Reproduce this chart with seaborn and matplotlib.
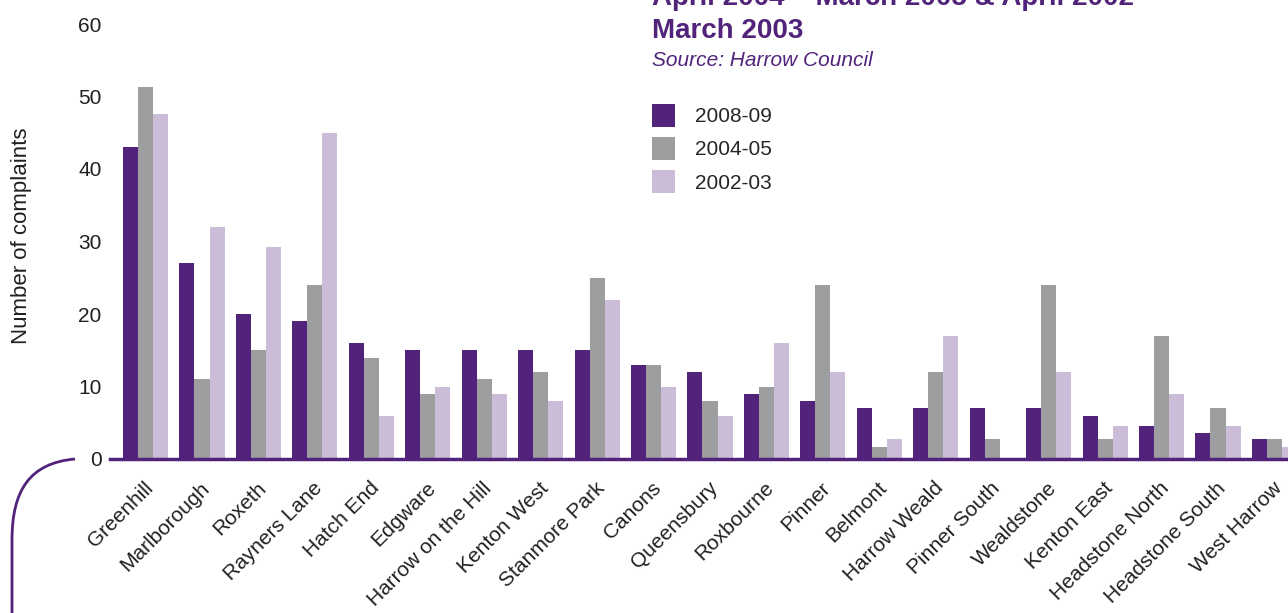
import matplotlib
matplotlib.use('Agg')
import matplotlib.pyplot as plt
import matplotlib.transforms as mtransforms
from matplotlib.patches import Patch, PathPatch
from matplotlib.path import Path
import pandas as pd
import seaborn as sns

# Wards (categories) and complaint counts per period
wards = ['Greenhill', 'Marlborough', 'Roxeth', 'Rayners Lane', 'Hatch End', 'Edgware',
         'Harrow on the Hill', 'Kenton West', 'Stanmore Park', 'Canons', 'Queensbury',
         'Roxbourne', 'Pinner', 'Belmont', 'Harrow Weald', 'Pinner South', 'Wealdstone',
         'Kenton East', 'Headstone North', 'Headstone South', 'West Harrow']
c_2008 = [43, 27, 20, 19, 16, 15, 15, 15, 15, 13, 12, 9, 8, 7, 7, 7, 7, 6, 4.6, 3.6, 2.7]
c_2004 = [51.3, 11, 15, 24, 14, 9, 11, 12, 25, 13, 8, 10, 24, 1.7, 12, 2.7, 24, 2.7, 17, 7, 2.7]
c_2002 = [47.6, 32, 29.3, 45, 6, 10, 9, 8, 22, 10, 6, 16, 12, 2.7, 17, 0, 12, 4.6, 9, 4.6, 1.7]
periods = ['2008-09', '2004-05', '2002-03']
y_ticks = [0, 10, 20, 30, 40, 50, 60]

purple = '#51237A'
grey = '#9D9EA0'
lilac = '#CBBDD8'
ink = '#231F20'

df = pd.DataFrame({
    'ward': wards * 3,
    'n': c_2008 + c_2004 + c_2002,
    'period': [periods[0]] * len(wards) + [periods[1]] * len(wards) + [periods[2]] * len(wards),
})

sns.set_style('white')
plt.rcParams['font.family'] = ['Liberation Sans', 'DejaVu Sans']

W, H = 1288, 613
fig = plt.figure(figsize=(W / 100, H / 100), dpi=100)
ax = fig.add_axes([110 / W, 1 - 459 / H, 1 - 110 / W, (459 - 24) / H])

sns.barplot(data=df, x='ward', y='n', hue='period', palette=[purple, grey, lilac],
            width=0.8, saturation=1, linewidth=0, ax=ax, legend=False)

ax.set_xlim(-0.63, 20.24)
ax.set_ylim(0, 60)
ax.set_yticks(y_ticks)
ax.set_yticklabels([str(t) for t in y_ticks])
ax.tick_params(axis='y', length=0, pad=6, labelsize=15, labelcolor=ink)
ax.tick_params(axis='x', length=0, pad=14, labelsize=15, labelcolor=ink)
shift = mtransforms.ScaledTranslation(-0.02, 0, fig.dpi_scale_trans)
for lab in ax.get_xticklabels():
    lab.set_rotation(45)
    lab.set_ha('right')
    lab.set_rotation_mode('anchor')
    lab.set_transform(lab.get_transform() + shift)
ax.set_xlabel('')
ax.set_ylabel('')
for s in ['top', 'right', 'left']:
    ax.spines[s].set_visible(False)
ax.spines['bottom'].set_color(purple)
ax.spines['bottom'].set_linewidth(2.5)

fig.text(22 / W, 1 - 236 / H, 'Number of complaints', rotation=90,
         ha='center', va='center', fontsize=16, color=ink)

# Title block (first line partly outside the canvas, as in the source)
fig.text(652 / W, 1 - 5 / H, 'April 2004 – March 2005 & April 2002',
         fontsize=20, fontweight='bold', color=purple, ha='left', va='baseline')
fig.text(652 / W, 1 - 38 / H, 'March 2003',
         fontsize=20, fontweight='bold', color=purple, ha='left', va='baseline')
fig.text(652 / W, 1 - 66 / H, 'Source: Harrow Council',
         fontsize=15, style='italic', color=purple, ha='left', va='baseline')

handles = [Patch(facecolor=c, edgecolor='none') for c in [purple, grey, lilac]]
ax.legend(handles, periods, loc='upper left', bbox_to_anchor=(652 / W, 1 - 104 / H),
          bbox_transform=fig.transFigure, frameon=False, fontsize=15,
          handlelength=1.1, handleheight=1.3, handletextpad=0.95,
          labelspacing=0.5, borderpad=0, borderaxespad=0)

# Decorative rounded bracket at bottom left
verts = [(75 / W, 1 - 459 / H), (30 / W, 1 - 463 / H), (12 / W, 1 - 490 / H),
         (12 / W, 1 - 540 / H), (12 / W, 0)]
codes = [Path.MOVETO, Path.CURVE4, Path.CURVE4, Path.CURVE4, Path.LINETO]
fig.add_artist(PathPatch(Path(verts, codes), transform=fig.transFigure,
                         fill=False, edgecolor=purple, linewidth=2))

fig.savefig('out.png', dpi=100)
